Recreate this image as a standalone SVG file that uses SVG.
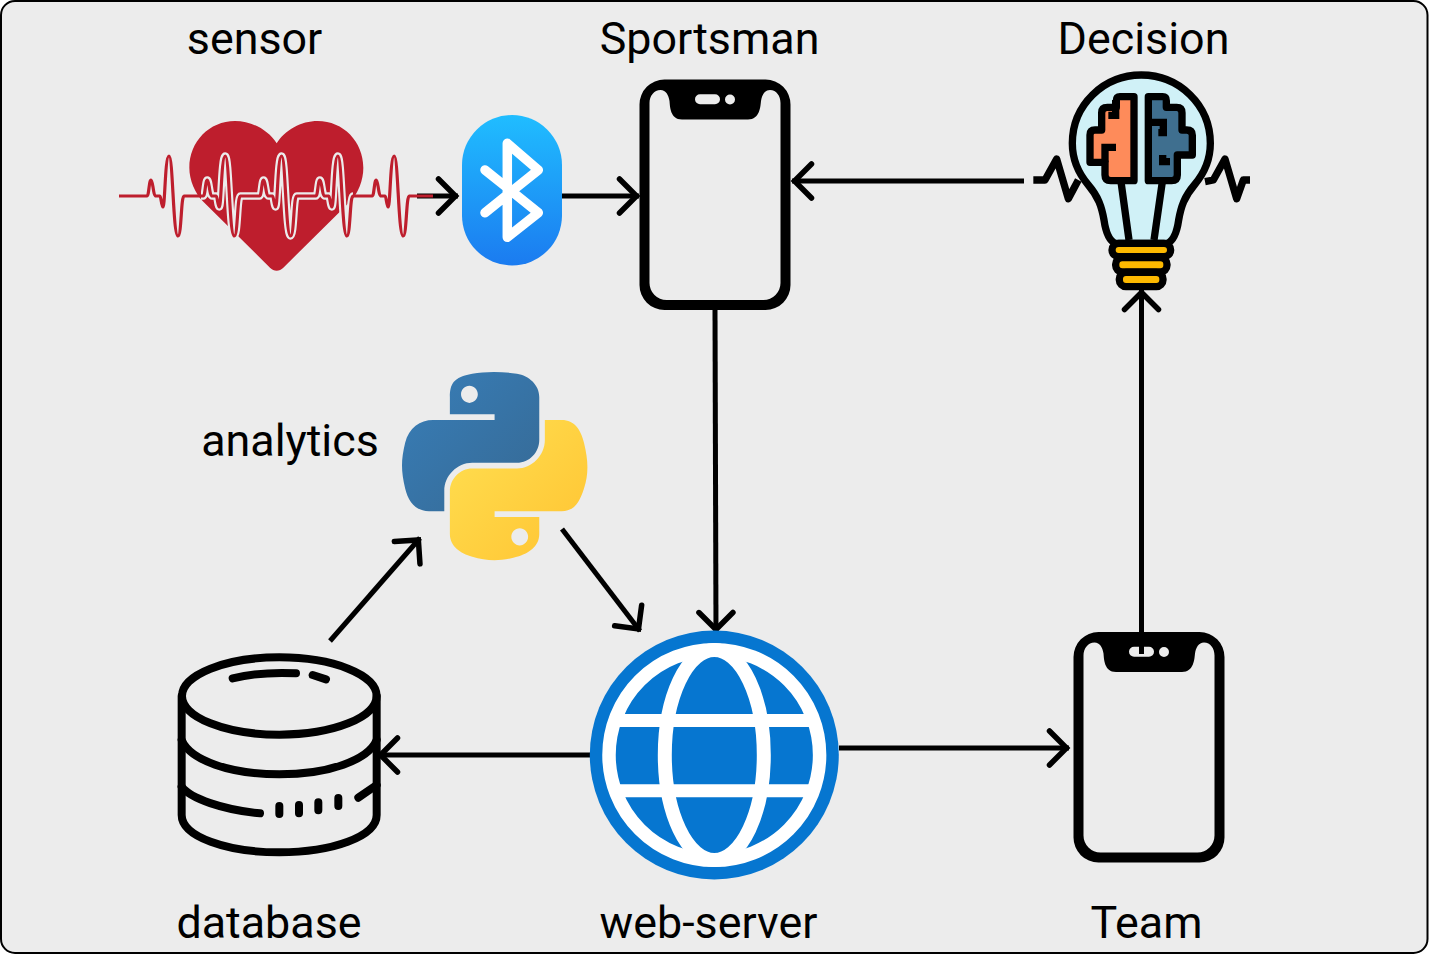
<svg xmlns="http://www.w3.org/2000/svg" xmlns:xlink="http://www.w3.org/1999/xlink" width="1429" height="955" viewBox="0 0 1429 955">
<style>
text{font-family:Roboto,"Liberation Sans",sans-serif;font-size:44.800px;fill:#000;text-anchor:middle}
.arrow{fill:none;stroke:#000;stroke-width:5;marker-end:url(#chev)}
.k{fill:none;stroke:#000}
.r{stroke-linecap:round;stroke-linejoin:round}
</style>
<defs>
<marker id="chev" markerUnits="userSpaceOnUse" markerWidth="30" markerHeight="44" refX="25.500" refY="22" orient="auto" overflow="visible">
<path d="M6,5 L23,22 L6,39" fill="none" stroke="#000" stroke-width="5.500" stroke-linecap="round" stroke-linejoin="miter"/>
</marker>
<linearGradient id="bt" x1="0" y1="0" x2="0" y2="1"><stop offset="0" stop-color="#20bdff"/><stop offset="1" stop-color="#1b7bf0"/></linearGradient>
<linearGradient id="pb" x1="0" y1="0" x2="1" y2="1"><stop offset="0" stop-color="#387eb8"/><stop offset="1" stop-color="#366994"/></linearGradient>
<linearGradient id="py" x1="0" y1="0" x2="1" y2="1"><stop offset="0" stop-color="#ffe052"/><stop offset="1" stop-color="#ffc331"/></linearGradient>
<clipPath id="halo"><rect x="201" y="140" width="152" height="110"/></clipPath>
<path id="phone" fill="#000" fill-rule="evenodd" d="M34.5,9.5H135.5A25,25 0 0 1 160.5,34.5V215A25,25 0 0 1 135.5,240H34.5A25,25 0 0 1 9.5,215V34.5A25,25 0 0 1 34.5,9.5Z M19.5,33C19.5,26 24,20 30.5,20C36,20 38.5,25 39.5,31C40,36 40,49.5 52,49.5H118C130,49.5 130.5,36 131,31C132,25 134.5,20 140,20C146.5,20 150.5,26 150.5,33V213A17,17 0 0 1 133.5,230H36.5A17,17 0 0 1 19.5,213Z M70,24.3H85A5,5 0 0 1 85,34.3H70A5,5 0 0 1 70,24.3Z M95,29.5A5,5 0 0 0 105,29.5A5,5 0 0 0 95,29.5Z"/>
<path id="ecg" fill="none" stroke-linejoin="round" d="M119,196H147 c2,0 2,-16 4,-16 c2,0 2,16 5,16 h4 c1,0 1.5,11 3,11 c2,0 2,-51 6,-51 c4,0 4,80 9,80 c3.5,0 3,-40 6,-40 h19.3 c2,0 2,-16 4,-16 c2,0 2,16 5,16 h4 c1,0 1.5,11 3,11 c2,0 2,-51 6,-51 c4,0 4,80 9,80 c3.5,0 3,-40 6,-40 h19.3 c2,0 2,-16 4,-16 c2,0 2,16 5,16 h4 c1,0 1.5,11 3,11 c2,0 2,-51 6,-51 c4,0 4,80 9,80 c3.5,0 3,-40 6,-40 h19.3 c2,0 2,-16 4,-16 c2,0 2,16 5,16 h4 c1,0 1.5,11 3,11 c2,0 2,-51 6,-51 c4,0 4,80 9,80 c3.5,0 3,-40 6,-40 h19.3 c2,0 2,-16 4,-16 c2,0 2,16 5,16 h4 c1,0 1.5,11 3,11 c2,0 2,-51 6,-51 c4,0 4,80 9,80 c3.5,0 3,-40 6,-40 H433"/>
</defs>
<rect id="frame" x="1" y="1" width="1426.5" height="952" rx="14" fill="#ececec" stroke="#000" stroke-width="2"/>

<g id="connectors">
<path class="arrow" d="M417,196H458"/>
<path class="arrow" d="M562,196H639"/>
<path class="arrow" d="M1024,181H792"/>
<path class="arrow" d="M715,310L716,632"/>
<path class="arrow" d="M839,748H1069"/>
<path class="arrow" d="M590,755H378"/>
<path class="arrow" d="M330,641L420,538"/>
<path class="arrow" d="M562,529L640,631"/>
</g>

<g id="sensor">
<text x="254.5" y="54">sensor</text>
<path transform="translate(100,100) scale(.33333)" fill="#be1e2d" d="M530,130C505,90 455,63 405,63C328,63 268,125 268,203C268,240 285,280 310,305L510,503C522,515 538,515 550,503L750,305C775,280 790,240 790,203C790,125 730,63 653,63C603,63 555,90 530,130Z"/>
<use xlink:href="#ecg" href="#ecg" stroke="#ececec" stroke-width="7.500" clip-path="url(#halo)"/>
<use xlink:href="#ecg" href="#ecg" stroke="#be1e2d" stroke-width="3.200"/>
</g>

<g id="bluetooth">
<rect x="462" y="115" width="100" height="150.500" rx="50" fill="url(#bt)"/>
<path d="M485,212.700L538.300,170L507.300,143.300V237.300L538.300,212.700L485,170" fill="none" stroke="#fff" stroke-width="9.500" stroke-linecap="round" stroke-linejoin="round"/>
</g>

<g id="sportsman">
<text x="709.5" y="54">Sportsman</text>
<use xlink:href="#phone" href="#phone" transform="translate(630,70)"/>
</g>

<g id="decision" transform="translate(1020,60) scale(.33333)">
<path class="k" stroke-width="22" stroke-linejoin="round" d="M40,360H75L110,297L145,416L175,360"/>
<path class="k" stroke-width="22" stroke-linejoin="round" d="M555,365L580,360L615,297L650,416L670,360H690"/>
<path fill="#d0f1f7" stroke="#000" stroke-width="22" stroke-linejoin="round" d="M364,45C250,45 157,135 157,250C157,300 175,340 205,375C235,410 245,440 252,480C257,515 265,540 285,550H443C463,540 471,515 476,480C483,440 493,410 523,375C553,340 571,300 571,250C571,135 478,45 364,45Z"/>
<path class="k" stroke-width="22" d="M303,365L327,540M427,365L402,540"/>
<path fill="#fe8b5a" stroke="#000" stroke-width="22" stroke-linejoin="round" d="M342,110H300Q289,110 289,122V142H262Q245,142 245,158V210H225Q210,210 210,225V307H255V345Q255,362 272,362H342Z"/>
<path fill="#3f6f8f" stroke="#000" stroke-width="22" stroke-linejoin="round" d="M385,110H428Q439,110 439,122V142H470Q486,142 486,158V210H500Q517,210 517,226V285H472V345Q472,362 455,362H385Z"/>
<path class="k" stroke-width="22" d="M287,120V166H265M255,307V262H288M385,187H430V218H415M428,285V305H450"/>
<rect x="276" y="550" width="176" height="40" rx="20" fill="#fdb900" stroke="#000" stroke-width="22"/>
<rect x="287" y="593" width="154" height="43" rx="20" fill="#fdb900" stroke="#000" stroke-width="22"/>
<rect x="298" y="637" width="131" height="43" rx="20" fill="#fdb900" stroke="#000" stroke-width="22"/>
</g>
<text x="1143.500" y="54">Decision</text>

<g id="analytics">
<text x="290" y="456">analytics</text>
<g transform="translate(402,372) scale(1.668,1.675)">
<path fill="url(#pb)" d="M54.919 0c-4.584.022-8.961.413-12.813 1.095C30.76 3.099 28.7 7.295 28.7 15.032v10.219h26.813v3.406H18.638c-7.793 0-14.616 4.684-16.75 13.594-2.462 10.213-2.571 16.586 0 27.25 1.906 7.938 6.458 13.594 14.25 13.594h9.219v-12.25c0-8.85 7.657-16.656 16.75-16.656h26.781c7.454 0 13.406-6.138 13.406-13.625v-25.531c0-7.266-6.13-12.725-13.406-13.937C64.282.328 59.502-.02 54.919 0zm-14.5 8.219c2.77 0 5.031 2.299 5.031 5.125 0 2.816-2.262 5.094-5.031 5.094-2.779 0-5.031-2.277-5.031-5.094 0-2.826 2.252-5.125 5.031-5.125z"/>
<path fill="url(#py)" d="M85.638 28.657v11.906c0 9.231-7.826 17-16.75 17H42.106c-7.336 0-13.406 6.278-13.406 13.625v25.531c0 7.266 6.319 11.54 13.406 13.625 8.487 2.496 16.626 2.947 26.781 0 6.75-1.954 13.406-5.888 13.406-13.625V86.501H55.513v-3.406h40.188c7.793 0 10.696-5.436 13.406-13.594 2.799-8.399 2.68-16.476 0-27.25-1.926-7.757-5.604-13.594-13.406-13.594H85.638zm-15.063 64.656c2.779 0 5.031 2.277 5.031 5.094 0 2.826-2.252 5.125-5.031 5.125-2.77 0-5.031-2.299-5.031-5.125 0-2.816 2.262-5.094 5.031-5.094z"/>
</g>
</g>

<g id="database">
<g transform="translate(160,640) scale(.33333)">
<g class="k r" stroke-width="24">
<ellipse cx="358" cy="168" rx="292" ry="116"/>
<path d="M65,168V525C65,590 200,637 358,637C516,637 650,590 650,525V168"/>
<path d="M65,300C90,360 210,403 358,403C506,403 625,360 650,300"/>
<path d="M65,440C90,475 190,510 300,520"/>
<path d="M595,473L650,435"/>
<path d="M218,115C280,100 350,97 408,100M458,105L498,118"/>
<path d="M358,498V522M417,495V520M475,487V511M535,474V498"/>
</g>
</g>
<text x="269" y="938">database</text>
</g>

<g id="webserver">
<circle cx="714.300" cy="755" r="124.500" fill="#0676d0"/>
<circle cx="714.300" cy="755" r="105.300" fill="none" stroke="#fff" stroke-width="13.500"/>
<ellipse cx="714.300" cy="755" rx="49.500" ry="105" fill="none" stroke="#fff" stroke-width="14"/>
<path d="M616,720.500H813M616,790.800H813" stroke="#fff" stroke-width="13"/>
<text x="708.500" y="938">web-server</text>
</g>

<g id="team">
<use xlink:href="#phone" href="#phone" transform="translate(1064,622.500)"/>
<text x="1146.500" y="938">Team</text>
</g>

<g id="connectors-top">
<path class="arrow" d="M1141.500,654V290"/>
</g>
</svg>
